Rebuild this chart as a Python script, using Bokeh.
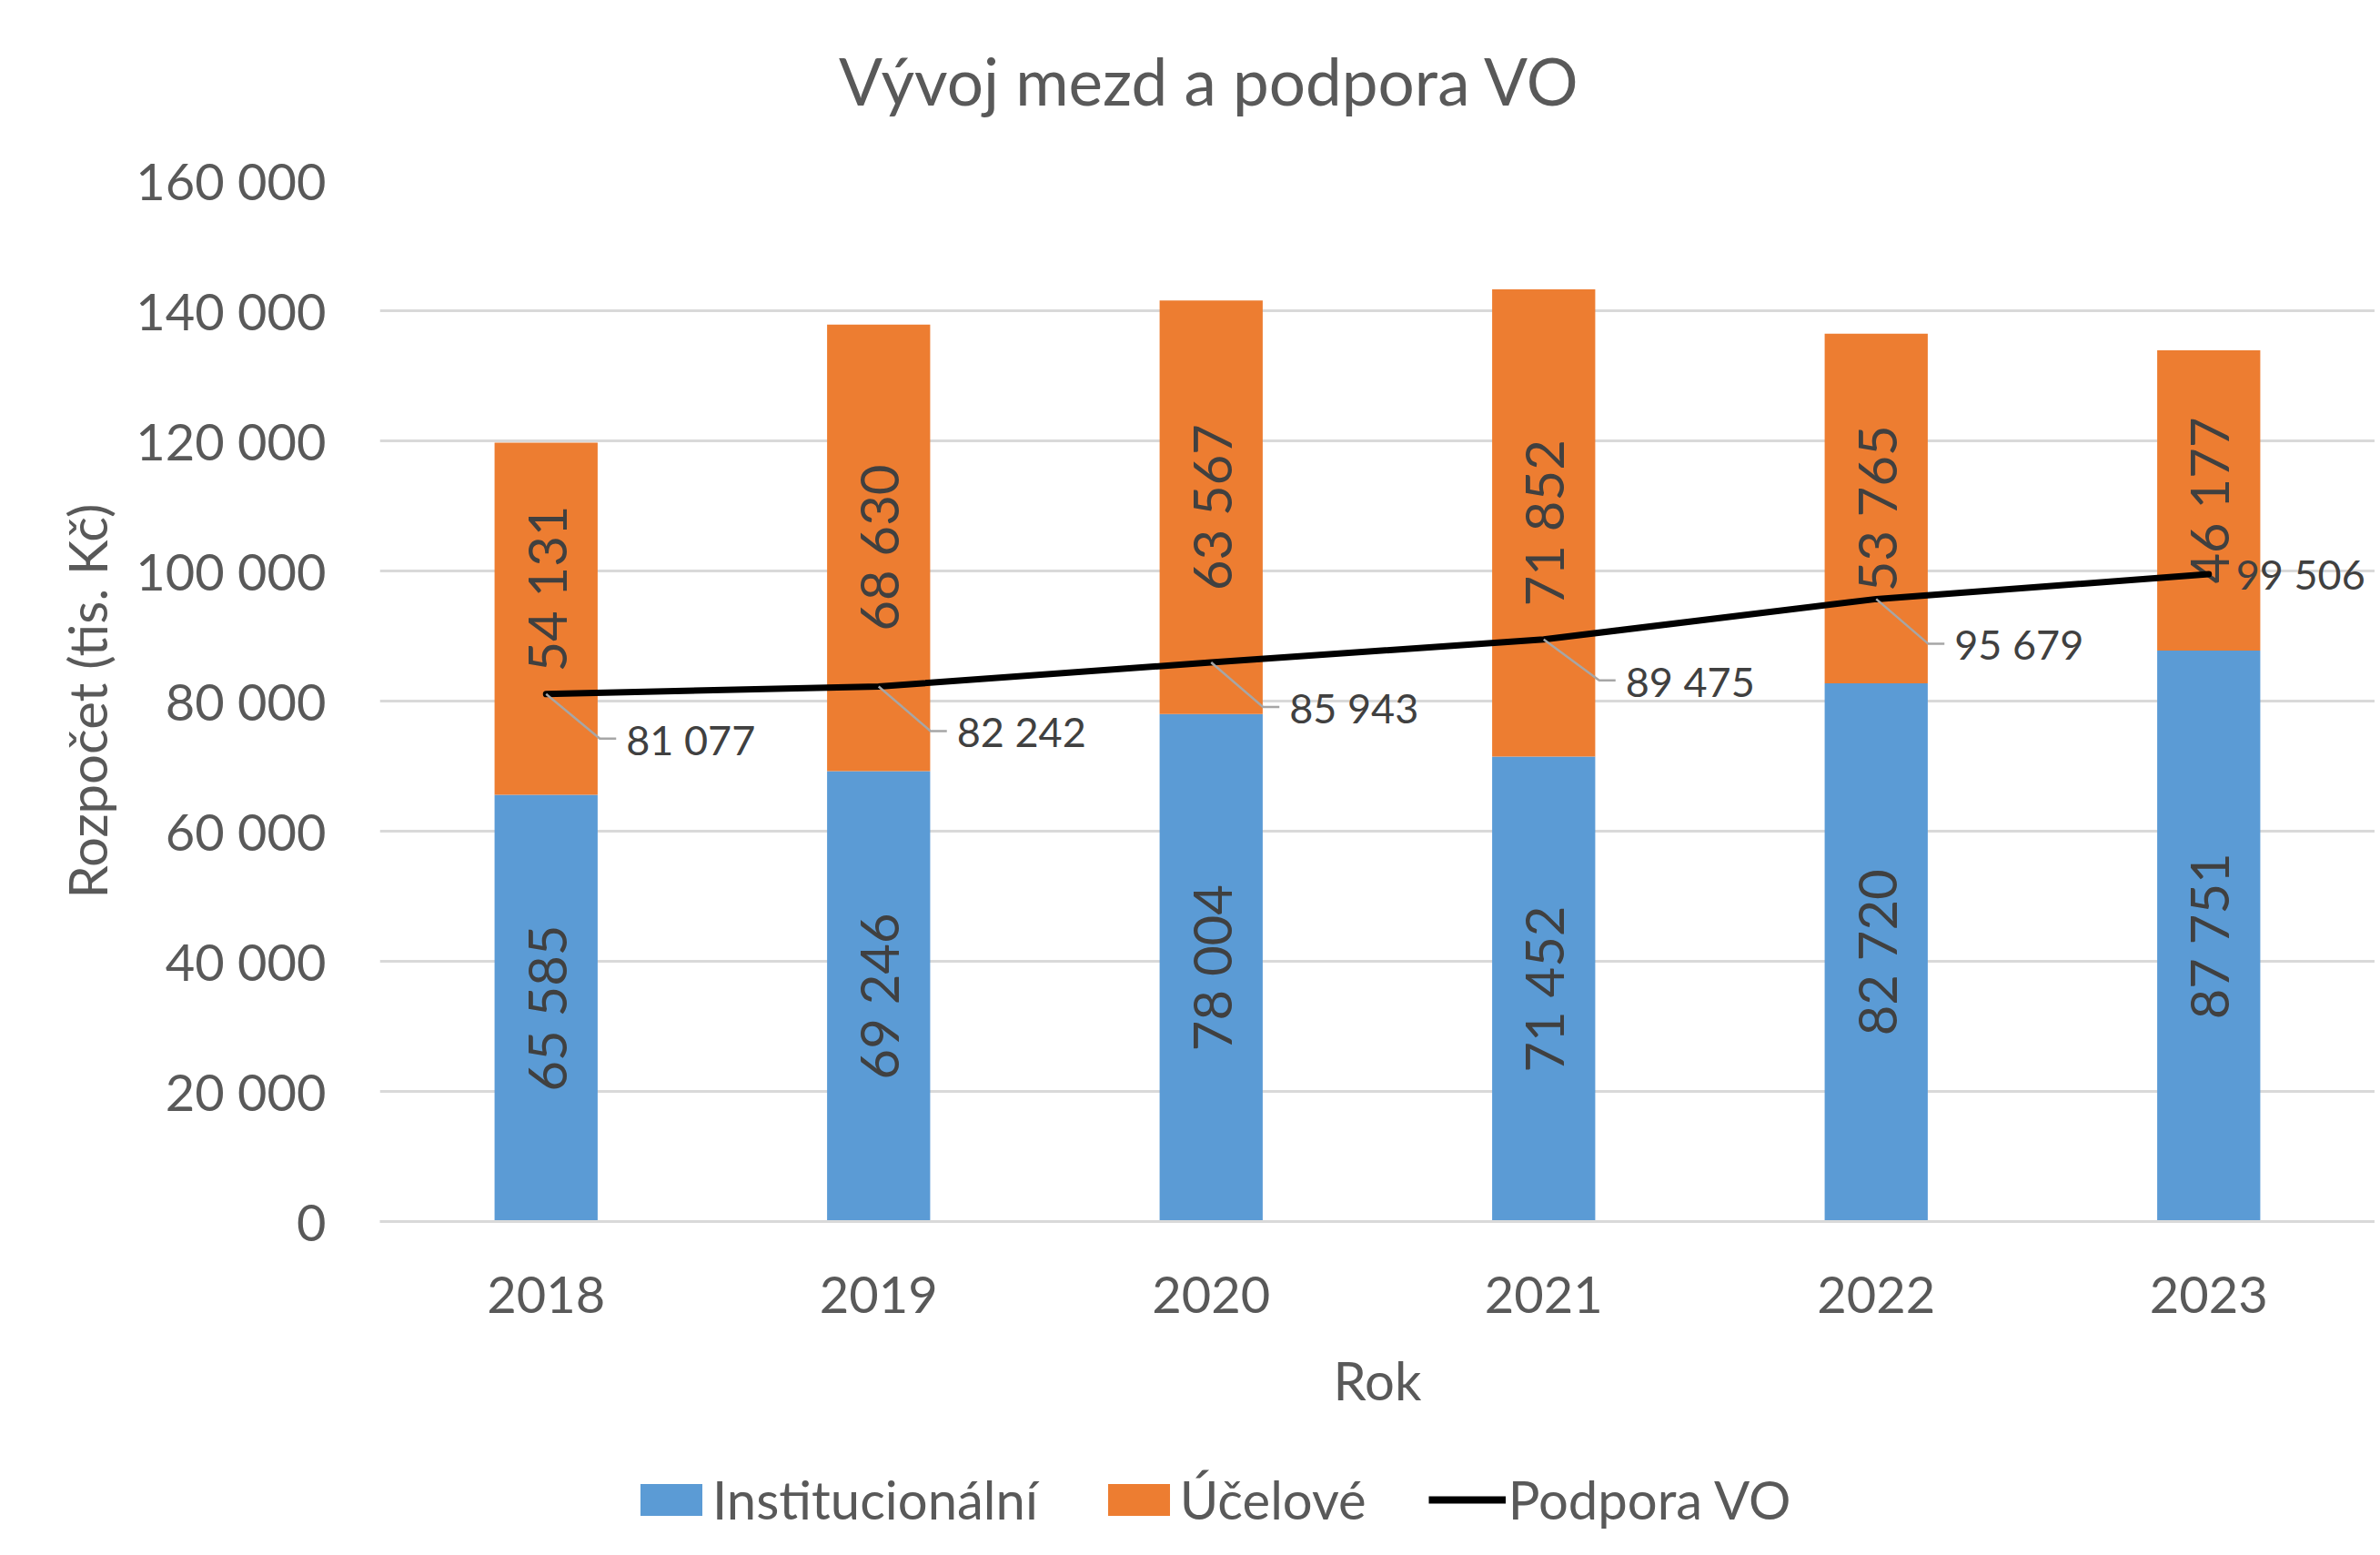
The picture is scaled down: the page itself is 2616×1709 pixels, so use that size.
import math
from bokeh.plotting import figure
from bokeh.layouts import column
from bokeh.models import (ColumnDataSource, Range1d, FixedTicker, Legend,
                          LegendItem)
from bokeh.embed import file_html
from bokeh.resources import INLINE
from bokeh.core.properties import value

# ---------------- data ----------------
years = [2018, 2019, 2020, 2021, 2022, 2023]
year_labels = ["2018", "2019", "2020", "2021", "2022", "2023"]
institucionalni = [65585, 69246, 78004, 71452, 82720, 87751]
ucelove = [54131, 68630, 63567, 71852, 53765, 46177]
podpora_vo = [81077, 82242, 85943, 89475, 95679, 99506]
y_ticks = [0, 20000, 40000, 60000, 80000, 100000, 120000, 140000, 160000]

title_text = "Vývoj mezd a podpora VO"
series_names = ["Institucionální", "Účelové", "Podpora VO"]

# ---------------- styles ----------------
FONT = "Lato"
BLUE = "#5b9bd5"
ORANGE = "#ed7d31"
GRID = "#d9d9d9"
TXT = "#595959"
DARK = "#404040"
LEADER = "#a6a6a6"
W = 2610
LEFT = 417


def fmt(v):
    return f"{v:,}".replace(",", " ")


# label placement styles (pixels)
ucel_label_shift = [33, 0, 0, 0, 0, 0]      # manual shift upward of the first label
vo_label_dx = [88, 86, 86, 90, 86, 30]
vo_label_dy = [50, 50, 50, 46, 50, 0]
PX_PER_X = 365.5
UNITS_PER_PX_Y = 160000 / 1144.0

src = ColumnDataSource(dict(
    year=years,
    inst=institucionalni,
    ucel=ucelove,
    inst_mid=[v / 2 for v in institucionalni],
    ucel_mid=[a + b / 2 for a, b in zip(institucionalni, ucelove)],
    inst_txt=[fmt(v) for v in institucionalni],
    ucel_txt=[fmt(v) for v in ucelove],
    ucel_shift=[-s for s in ucel_label_shift],
    vo=podpora_vo,
    vo_txt=[fmt(v) for v in podpora_vo],
    vo_dx=vo_label_dx,
    vo_dy=vo_label_dy,
))


def strip(height):
    f = figure(width=W, height=height, x_range=Range1d(0, 1),
               y_range=Range1d(0, 1), output_backend="svg",
               toolbar_location=None, min_border_left=LEFT,
               min_border_right=0, min_border_top=0, min_border_bottom=0)
    f.axis.visible = False
    f.grid.visible = False
    f.outline_line_color = None
    f.background_fill_color = "white"
    f.border_fill_color = "white"
    f.title.visible = False
    return f


# ---------------- title strip ----------------
tf = strip(158)
tf.text(x=[0.4159], y=[0.44], text=[title_text], text_align="center",
        text_baseline="alphabetic", text_font=value(FONT),
        text_font_size="71px", text_color=TXT)

# ---------------- main plot ----------------
p = figure(width=W, height=1432,
           x_range=Range1d(2017.5, 2023.5), y_range=Range1d(0, 160000),
           output_backend="svg", toolbar_location=None,
           min_border_left=LEFT, min_border_right=0,
           min_border_top=40, min_border_bottom=248)
p.title.visible = False
p.outline_line_color = None
p.background_fill_color = "white"
p.border_fill_color = "white"

# grid
p.xgrid.visible = False
p.ygrid.grid_line_color = GRID
p.ygrid.grid_line_width = 3
p.ygrid.ticker = FixedTicker(ticks=y_ticks)

# y axis
ya = p.yaxis[0]
ya.ticker = FixedTicker(ticks=y_ticks)
ya.major_label_overrides = {t: fmt(t) for t in y_ticks}
ya.axis_line_color = None
ya.major_tick_line_color = None
ya.minor_tick_line_color = None
ya.major_tick_out = 0
ya.major_tick_in = 0
ya.major_label_standoff = 59
ya.major_label_text_font = FONT
ya.major_label_text_font_size = "56px"
ya.major_label_text_color = TXT
ya.axis_label = "Rozpočet (tis. Kč)"
ya.axis_label_text_font = FONT
ya.axis_label_text_font_size = "58px"
ya.axis_label_text_font_style = "normal"
ya.axis_label_text_color = TXT
ya.axis_label_standoff = 16

# x axis
xa = p.xaxis[0]
xa.ticker = FixedTicker(ticks=years)
xa.major_label_overrides = {y: l for y, l in zip(years, year_labels)}
xa.axis_line_color = GRID
xa.axis_line_width = 3
xa.major_tick_line_color = None
xa.minor_tick_line_color = None
xa.major_tick_out = 0
xa.major_tick_in = 0
xa.major_label_standoff = 60
xa.major_label_text_font = FONT
xa.major_label_text_font_size = "56px"
xa.major_label_text_color = TXT
xa.axis_label = "Rok"
xa.axis_label_text_font = FONT
xa.axis_label_text_font_size = "58px"
xa.axis_label_text_font_style = "normal"
xa.axis_label_text_color = TXT
xa.axis_label_standoff = 36

# bars
bars = p.vbar_stack(["inst", "ucel"], x="year", width=0.31, source=src,
                    color=[BLUE, ORANGE], line_color=None)

# bar labels
p.text(x="year", y="inst_mid", text="inst_txt", source=src, angle=math.pi / 2,
       text_align="center", text_baseline="middle", text_font=value(FONT),
       text_font_size="58px", text_color=DARK)
p.text(x="year", y="ucel_mid", text="ucel_txt", source=src, angle=math.pi / 2,
       y_offset="ucel_shift",
       text_align="center", text_baseline="middle", text_font=value(FONT),
       text_font_size="58px", text_color=DARK)

# line
line = p.line(x="year", y="vo", source=src, line_color="black", line_width=7,
              line_join="round", line_cap="round")

# leader lines (from point to label)
lx, ly = [], []
for x, y, dx, dy in zip(years, podpora_vo, vo_label_dx, vo_label_dy):
    if dy == 0:
        continue
    x1 = x + (dx - 29) / PX_PER_X
    x2 = x + (dx - 11) / PX_PER_X
    y1 = y - (dy - 1) * UNITS_PER_PX_Y
    lx.append([x, x1, x2])
    ly.append([y, y1, y1])
p.multi_line(xs=lx, ys=ly, line_color=LEADER, line_width=2.5)

p.text(x="year", y="vo", text="vo_txt", source=src, x_offset="vo_dx",
       y_offset="vo_dy", text_align="left", text_baseline="middle",
       text_font=value(FONT), text_font_size="45px", text_color=DARK)

# ---------------- legend strip ----------------
lg = strip(110)
# legend proxies (zero-height bars, single-point line: nothing visible drawn)
r_inst = lg.vbar(x=[0.5], top=[0], bottom=[0], width=0.1, color=BLUE,
                 line_color=None)
r_ucel = lg.vbar(x=[0.5], top=[0], bottom=[0], width=0.1, color=ORANGE,
                 line_color=None)
r_line = lg.line(x=[0.5], y=[0.5], line_color="black", line_width=8)

legend = Legend(items=[LegendItem(label=series_names[0], renderers=[r_inst]),
                       LegendItem(label=series_names[1], renderers=[r_ucel]),
                       LegendItem(label=series_names[2], renderers=[r_line])],
                orientation="horizontal", location=(278, 18),
                glyph_width=85, glyph_height=44, label_standoff=3,
                spacing=68, padding=0, margin=0,
                label_text_font=FONT, label_text_font_size="58px",
                label_text_color=TXT, border_line_color=None,
                background_fill_alpha=0)
lg.add_layout(legend)

layout = column(tf, p, lg, spacing=0)
open("out.html", "w").write(file_html(layout, INLINE))
